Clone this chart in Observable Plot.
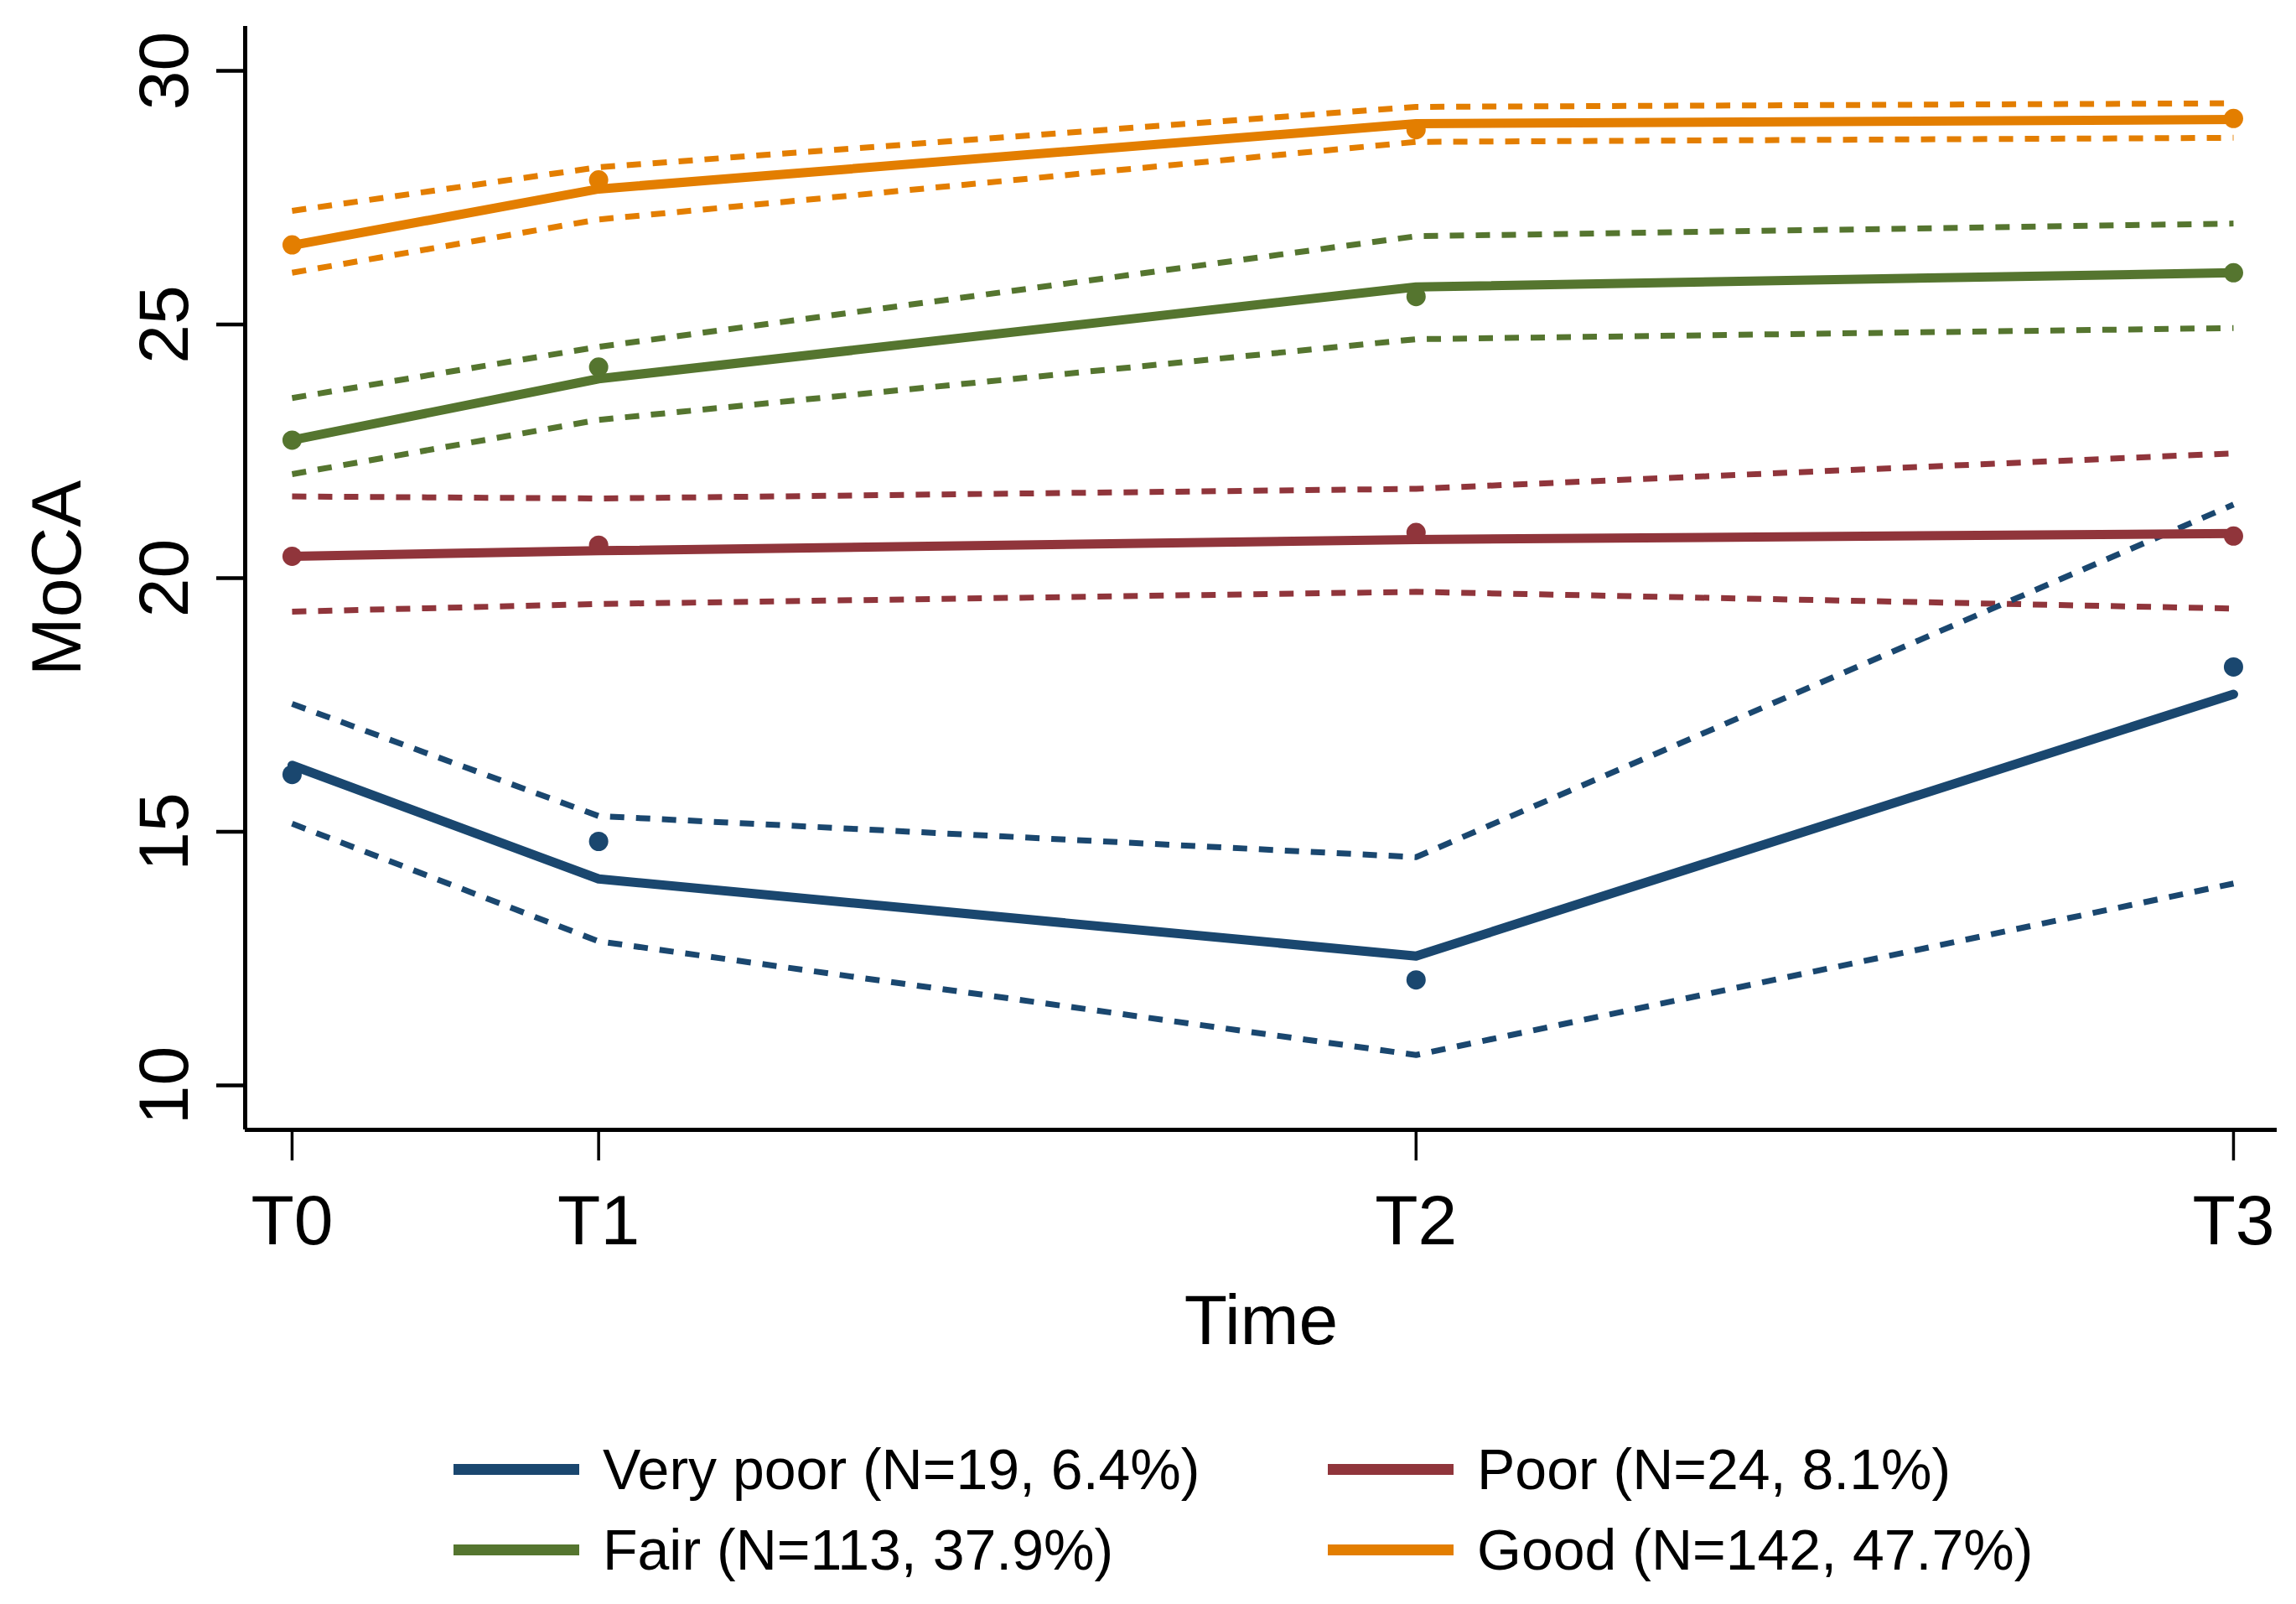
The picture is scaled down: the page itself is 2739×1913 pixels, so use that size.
<!DOCTYPE html>
<html>
<head>
<meta charset="utf-8">
<script src="https://cdn.jsdelivr.net/npm/d3@7"></script>
<script src="https://cdn.jsdelivr.net/npm/@observablehq/plot@0.6"></script>
<style>
  html, body { margin: 0; padding: 0; background: #ffffff; }
  #chart svg { display: block; }
  #legend {
    font-family: "Liberation Sans", Arial, sans-serif;
    font-size: 68px;
    color: #000;
    padding-top: 44px;
    padding-left: 541px;
    display: grid;
    grid-template-columns: 1043px auto;
  }
  .item { display: flex; align-items: center; line-height: 96px; height: 96px; white-space: nowrap; }
  .sw { display: inline-block; width: 150px; height: 13px; margin-right: 28px; }
</style>
</head>
<body>
<div id="chart"></div>
<div id="legend"></div>
<script>
// ---- data ----
const timeLabels = ["T0", "T1", "T2", "T3"];
const timeValues = [0, 3, 11, 19];
const groups = [
  "Very poor (N=19, 6.4%)",
  "Poor (N=24, 8.1%)",
  "Fair (N=113, 37.9%)",
  "Good (N=142, 47.7%)"
];
const groupColors = ["#1a476f", "#90353b", "#55752f", "#e37e00"];

// fitted trajectory (solid lines), per group
const fittedValues = [
  [16.31, 14.07, 12.55, 17.71],
  [20.43, 20.54, 20.76, 20.88],
  [22.72, 23.93, 25.74, 26.02],
  [26.56, 27.67, 28.96, 29.04]
];
// observed means (dots), per group
const observedValues = [
  [16.13, 14.81, 12.08, 18.25],
  [20.43, 20.65, 20.90, 20.83],
  [22.72, 24.16, 25.55, 26.02],
  [26.57, 27.85, 28.84, 29.06]
];
// lower confidence bound (dashed), per group
const lowerValues = [
  [15.16, 12.84, 10.60, 13.98],
  [19.34, 19.49, 19.73, 19.40],
  [22.05, 23.12, 24.71, 24.93],
  [26.02, 27.07, 28.60, 28.68]
];
// upper confidence bound (dashed), per group
const upperValues = [
  [17.52, 15.31, 14.50, 21.45],
  [21.61, 21.57, 21.76, 22.46],
  [23.55, 24.56, 26.74, 26.99],
  [27.24, 28.10, 29.29, 29.36]
];
const yTicks = [10, 15, 20, 25, 30];

// ---- tidy table ----
const rows = [];
groups.forEach((g, gi) => {
  timeValues.forEach((t, ti) => {
    rows.push({
      group: g,
      time: t,
      fit: fittedValues[gi][ti],
      obs: observedValues[gi][ti],
      lo: lowerValues[gi][ti],
      hi: upperValues[gi][ti]
    });
  });
});

const xDomain = [-0.459, 19.427];
const yDomain = [9.124, 30.876];
const font = "Liberation Sans, Arial, sans-serif";

const chart = Plot.plot({
  width: 2739,
  height: 1660,
  marginLeft: 292,
  marginRight: 23,
  marginTop: 31,
  marginBottom: 313,
  style: { fontFamily: font, background: "#ffffff", color: "#000000" },
  x: { domain: xDomain },
  y: { domain: yDomain },
  color: { domain: groups, range: groupColors },
  marks: [
    // axis lines
    Plot.ruleY([yDomain[0]], { stroke: "#000", strokeWidth: 5 }),
    Plot.ruleX([xDomain[0]], { stroke: "#000", strokeWidth: 5 }),
    // x axis
    Plot.axisX(timeValues, {
      tickSize: 37,
      tickPadding: 40,
      strokeWidth: 3.5,
      fontSize: 84,
      tickFormat: d => timeLabels[timeValues.indexOf(d)],
      label: null
    }),
    Plot.text(["Time"], { frameAnchor: "bottom", dy: 255, lineAnchor: "bottom", fontSize: 84, fill: "#000" }),
    // y axis ticks and labels
    Plot.axisY(yTicks, { tickSize: 34, strokeWidth: 4.5, tickFormat: () => "", label: null }),
    Plot.text(yTicks, {
      y: d => d,
      text: d => String(d),
      frameAnchor: "left",
      rotate: -90,
      dx: -69,
      textAnchor: "middle",
      lineAnchor: "bottom",
      fontSize: 84,
      fill: "#000"
    }),
    Plot.text(["MoCA"], { frameAnchor: "left", dx: -197, rotate: -90, textAnchor: "middle", lineAnchor: "bottom", fontSize: 84, fill: "#000" }),
    // confidence bounds
    Plot.line(rows, { x: "time", y: "lo", z: "group", stroke: "group", strokeWidth: 7, strokeDasharray: "17,14", strokeLinecap: "butt" }),
    Plot.line(rows, { x: "time", y: "hi", z: "group", stroke: "group", strokeWidth: 7, strokeDasharray: "17,14", strokeLinecap: "butt" }),
    // fitted trajectories
    Plot.line(rows, { x: "time", y: "fit", z: "group", stroke: "group", strokeWidth: 11 }),
    // observed means
    Plot.dot(rows, { x: "time", y: "obs", fill: "group", r: 11.5, stroke: null })
  ]
});
document.getElementById("chart").appendChild(chart);

// ---- legend ----
const legend = document.getElementById("legend");
groups.forEach((g, i) => {
  const item = document.createElement("div");
  item.className = "item";
  const sw = document.createElement("span");
  sw.className = "sw";
  sw.style.background = groupColors[i];
  const label = document.createElement("span");
  label.textContent = g;
  item.appendChild(sw);
  item.appendChild(label);
  legend.appendChild(item);
});
</script>
</body>
</html>
